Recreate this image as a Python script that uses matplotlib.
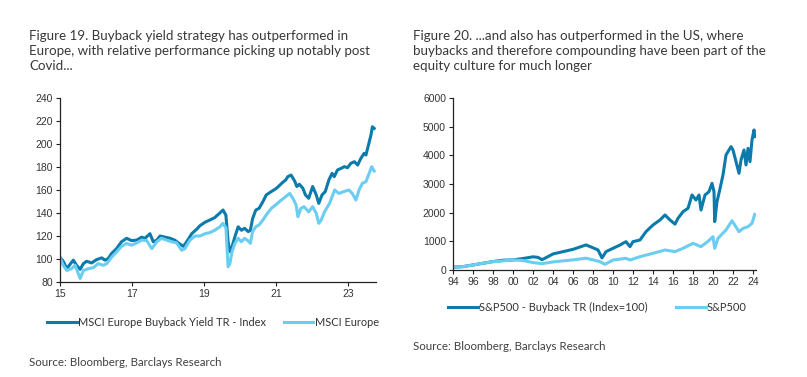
import matplotlib
matplotlib.use('Agg')
import matplotlib.pyplot as plt

# ---- Figure 19: Europe (index) ----
eu_bb_t = [2015.00, 2015.09, 2015.19, 2015.28, 2015.37, 2015.46, 2015.56, 2015.65, 2015.74, 2015.88,
           2016.02, 2016.16, 2016.25, 2016.34, 2016.44, 2016.57, 2016.71, 2016.85, 2016.99, 2017.13,
           2017.27, 2017.36, 2017.50, 2017.59, 2017.69, 2017.78, 2017.92, 2018.06, 2018.19, 2018.33,
           2018.43, 2018.52, 2018.66, 2018.80, 2018.89, 2019.03, 2019.17, 2019.30, 2019.44, 2019.53,
           2019.61, 2019.67, 2019.72, 2019.78, 2019.86, 2019.95, 2020.04, 2020.13, 2020.23, 2020.29,
           2020.35, 2020.44, 2020.53, 2020.64, 2020.73, 2020.87, 2021.01, 2021.10, 2021.19, 2021.27,
           2021.33, 2021.42, 2021.52, 2021.58, 2021.65, 2021.75, 2021.82, 2021.91, 2022.02, 2022.12,
           2022.19, 2022.28, 2022.37, 2022.47, 2022.56, 2022.62, 2022.71, 2022.81, 2022.90, 2022.99,
           2023.08, 2023.18, 2023.27, 2023.36, 2023.45, 2023.50, 2023.57, 2023.64, 2023.68, 2023.73]
eu_bb_v = [101.5, 98, 91.6, 95.4, 99, 94.5, 91, 96, 98, 96.6,
           99.5, 101, 99, 100.4, 105, 109, 115, 118, 116, 116.4,
           119, 118, 122, 115, 116.4, 120, 119, 118, 116.4, 113,
           111, 115, 122, 126, 129, 132, 134, 136, 140, 142.6,
           138, 115, 106.4, 110.7, 119.4, 128, 125, 126.7, 123.8, 125,
           135, 142.6, 144, 150, 155.7, 158.6, 161.4, 164, 166.7, 168.7,
           171.6, 173, 167.8, 163, 165, 161.4, 155.7, 152.8, 163, 155.7,
           148.4, 155.7, 158.6, 168.7, 174.5, 171.6, 177.4, 178.8, 180.3, 179.4,
           183.2, 184.6, 181.7, 187.5, 191.9, 190.4, 199, 207.8, 215, 213.6]

eu_t = [2015.00, 2015.09, 2015.19, 2015.32, 2015.42, 2015.56, 2015.65, 2015.79, 2015.93, 2016.06,
        2016.20, 2016.30, 2016.44, 2016.57, 2016.71, 2016.85, 2016.99, 2017.13, 2017.27, 2017.41,
        2017.55, 2017.69, 2017.82, 2017.96, 2018.10, 2018.24, 2018.38, 2018.47, 2018.61, 2018.75,
        2018.89, 2019.03, 2019.17, 2019.30, 2019.44, 2019.53, 2019.61, 2019.67, 2019.72, 2019.78,
        2019.86, 2019.95, 2020.04, 2020.13, 2020.23, 2020.29, 2020.35, 2020.44, 2020.53, 2020.64,
        2020.73, 2020.87, 2021.01, 2021.15, 2021.27, 2021.38, 2021.47, 2021.56, 2021.61, 2021.69,
        2021.78, 2021.91, 2022.02, 2022.12, 2022.19, 2022.26, 2022.35, 2022.49, 2022.63, 2022.75,
        2022.88, 2023.03, 2023.12, 2023.22, 2023.31, 2023.40, 2023.50, 2023.59, 2023.66, 2023.73]
eu_v = [101, 94.5, 90, 91.6, 94.5, 83, 90, 91.6, 92.5, 96,
        94.5, 96, 101.8, 106, 111, 113.5, 112, 114, 116.4, 116,
        109, 115, 118, 116.4, 115, 114, 107.6, 109, 116.4, 120,
        120, 122, 123, 125, 128, 131, 127, 93.3, 96, 106.4,
        113.6, 118, 115, 118, 115.7, 113.6, 123.8, 128, 129.6, 134,
        138.3, 144, 147.5, 151.3, 154.2, 157, 152.8, 147, 136.8, 144,
        145.5, 141, 145.5, 139.7, 131, 134, 141, 148.4, 160, 157,
        158.6, 160, 157, 151.3, 160, 165.8, 167.2, 174.5, 180.3, 176.5]

# ---- Figure 20: US (Index=100) ----
us_bb_t = [1994.0, 1995.0, 1996.0, 1997.0, 1998.0, 1999.0, 2000.0, 2001.0, 2002.0, 2002.5,
           2002.9, 2003.3, 2004.0, 2005.0, 2006.0, 2007.3, 2007.9, 2008.5, 2008.9, 2009.3,
           2010.0, 2010.7, 2011.3, 2011.7, 2012.0, 2012.7, 2013.3, 2014.0, 2014.7, 2015.2,
           2015.7, 2016.2, 2016.5, 2017.0, 2017.5, 2017.9, 2018.3, 2018.6, 2018.8, 2019.2,
           2019.6, 2019.9, 2020.1, 2020.17, 2020.4, 2020.67, 2021.0, 2021.3, 2021.8, 2022.0,
           2022.3, 2022.6, 2022.8, 2023.1, 2023.3, 2023.5, 2023.7, 2023.9, 2024.1, 2024.17]
us_bb_v = [100, 118, 176, 235, 294, 341, 353, 400, 460, 440,
           360, 430, 560, 640, 720, 875, 790, 700, 420, 640,
           756, 872, 989, 814, 989, 1047, 1337, 1570, 1745, 1919,
           1745, 1600, 1803, 2035, 2152, 2617, 2442, 2617, 2093, 2617,
           2733, 3024, 2733, 1690, 2384, 2791, 3315, 4012, 4303, 4187,
           3780, 3373, 3838, 4187, 3664, 4245, 3780, 4536, 4885, 4652]

us_t = [1994.0, 1995.0, 1996.0, 1997.0, 1998.0, 1999.0, 2000.0, 2001.0, 2002.0, 2002.9,
        2004.0, 2005.0, 2006.0, 2007.3, 2008.0, 2008.7, 2009.2, 2010.0, 2011.3, 2011.7,
        2012.7, 2014.0, 2015.2, 2016.2, 2017.0, 2018.0, 2018.8, 2019.5, 2020.0, 2020.17,
        2020.5, 2021.3, 2021.9, 2022.6, 2023.0, 2023.5, 2023.9, 2024.17]
us_v = [100, 118, 176, 235, 290, 318, 353, 330, 260, 220,
        282, 318, 353, 412, 353, 290, 198, 349, 407, 349,
        465, 582, 698, 640, 756, 930, 814, 1000, 1163, 756,
        1105, 1396, 1720, 1337, 1450, 1512, 1628, 1940]

eu_ticks = [2015, 2017, 2019, 2021, 2023]
us_ticks = list(range(1994, 2025, 2))

dark = '#0b7bab'
light = '#6bcdf1'
title_font = 'Lato'
tick_font = 'Liberation Sans'

fig = plt.figure(figsize=(8.07, 3.77), dpi=100)
W, H = 807, 377


def style_axes(ax):
    for s in ['top', 'right']:
        ax.spines[s].set_visible(False)
    for s in ['left', 'bottom']:
        ax.spines[s].set_color('#222222')
        ax.spines[s].set_linewidth(0.9)
    ax.tick_params(direction='out', length=3, width=0.8, colors='#222222',
                   labelsize=7.5, labelcolor='#333333', pad=2)
    for lab in ax.get_xticklabels() + ax.get_yticklabels():
        lab.set_fontfamily(tick_font)


# left chart
ax1 = fig.add_axes([60 / W, 1 - 282 / H, 316 / W, 184 / H])
ax1.plot(eu_bb_t, eu_bb_v, color=dark, lw=2.2, label='MSCI Europe Buyback Yield TR - Index')
ax1.plot(eu_t, eu_v, color=light, lw=2.2, label='MSCI Europe')
ax1.set_xlim(2015, 2023.78)
ax1.set_ylim(80, 240)
ax1.set_yticks(range(80, 241, 20))
ax1.set_xticks(eu_ticks)
ax1.set_xticklabels([str(t)[2:] for t in eu_ticks])
style_axes(ax1)
h1, l1 = ax1.get_legend_handles_labels()
fig.legend(h1, l1, loc='center left', bbox_to_anchor=(47 / W, 1 - 322 / H),
           ncol=2, frameon=False, handlelength=2.7, handletextpad=0.1, columnspacing=1.65,
           borderpad=0, borderaxespad=0, prop={'family': title_font, 'size': 7.9},
           labelcolor='#333333')

# right chart
ax2 = fig.add_axes([453 / W, 1 - 270 / H, 303 / W, 172 / H])
ax2.plot(us_bb_t, us_bb_v, color=dark, lw=2.2, label='S&P500 - Buyback TR (Index=100)')
ax2.plot(us_t, us_v, color=light, lw=2.2, label='S&P500')
ax2.set_xlim(1994, 2024.3)
ax2.set_ylim(0, 6000)
ax2.set_yticks(range(0, 6001, 1000))
ax2.set_xticks(us_ticks)
ax2.set_xticklabels(['%02d' % (t % 100) for t in us_ticks])
style_axes(ax2)
h2, l2 = ax2.get_legend_handles_labels()
fig.legend(h2, l2, loc='center left', bbox_to_anchor=(448 / W, 1 - 307 / H),
           ncol=2, frameon=False, handlelength=2.7, handletextpad=0.1, columnspacing=2.6,
           borderpad=0, borderaxespad=0, prop={'family': title_font, 'size': 7.9},
           labelcolor='#333333')

# titles
fig.text(29 / W, 1 - 30 / H,
         'Figure 19. Buyback yield strategy has outperformed in\n'
         'Europe, with relative performance picking up notably post\n'
         'Covid...', ha='left', va='top', family=title_font, fontsize=9.6,
         color='#383838', linespacing=1.3)
fig.text(413 / W, 1 - 30 / H,
         'Figure 20. ...and also has outperformed in the US, where\n'
         'buybacks and therefore compounding have been part of the\n'
         'equity culture for much longer', ha='left', va='top', family=title_font,
         fontsize=9.6, color='#383838', linespacing=1.3)

# sources
fig.text(29 / W, 1 - 362 / H, 'Source: Bloomberg, Barclays Research', ha='left', va='center',
         family=title_font, fontsize=8.3, color='#404040')
fig.text(413 / W, 1 - 347 / H, 'Source: Bloomberg, Barclays Research', ha='left', va='center',
         family=title_font, fontsize=8.3, color='#404040')

fig.savefig('out.png', dpi=100)
